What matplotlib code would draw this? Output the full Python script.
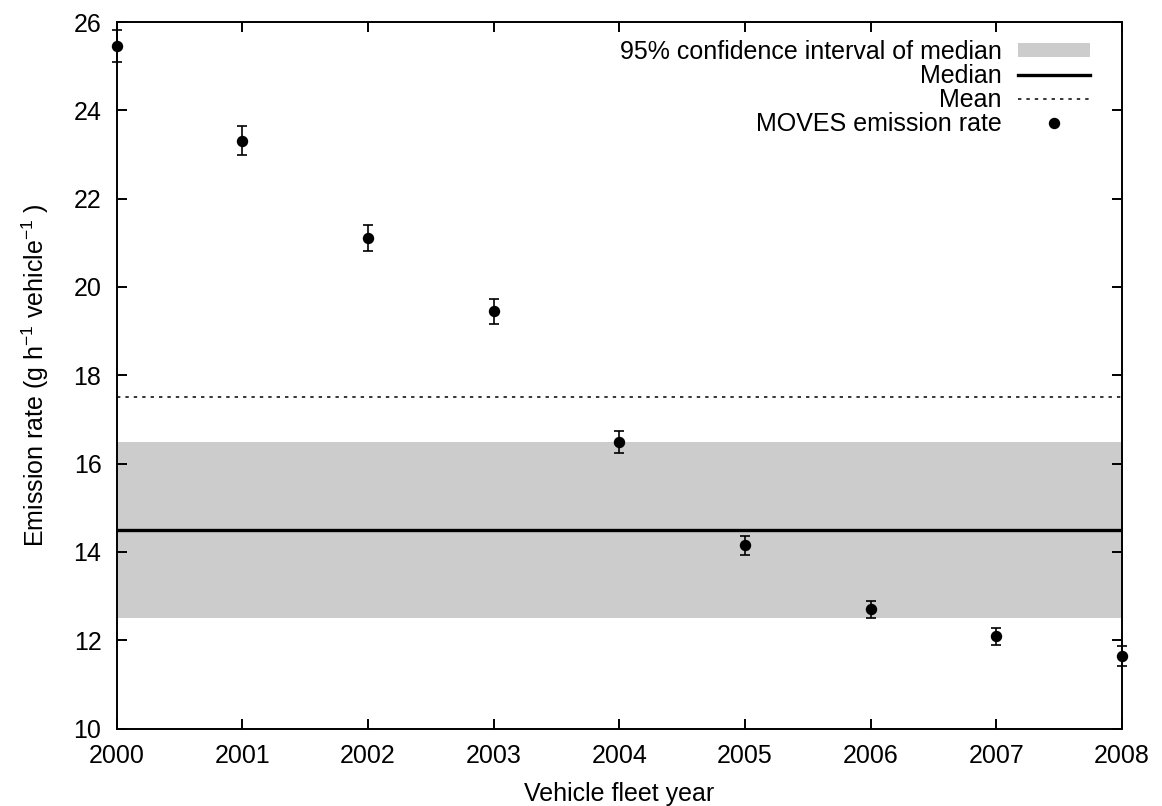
import matplotlib
matplotlib.use("Agg")
import matplotlib.pyplot as plt
from matplotlib.lines import Line2D
from matplotlib.patches import Patch

plt.rcParams['font.family'] = ['Liberation Sans', 'DejaVu Sans']
plt.rcParams['mathtext.fontset'] = 'custom'
plt.rcParams['mathtext.rm'] = 'Liberation Sans'
plt.rcParams['mathtext.it'] = 'Liberation Sans'

# Fleet years and MOVES emission rates with their uncertainties
years = [2000, 2001, 2002, 2003, 2004, 2005, 2006, 2007, 2008]
rates = [25.46, 23.31, 21.11, 19.45, 16.49, 14.15, 12.70, 12.09, 11.64]
errors = [0.36, 0.33, 0.30, 0.28, 0.24, 0.21, 0.20, 0.19, 0.22]

# Summary statistics
median_rate = 14.5
mean_rate = 17.5
ci_low, ci_high = 12.5, 16.5

fig = plt.figure(figsize=(11.62, 8.06), dpi=100)
ax = fig.add_axes([0.1004, 0.096, 0.8652, 0.8767])

ax.axhspan(ci_low, ci_high, color='#cccccc', lw=0, zorder=1)
ax.axhline(median_rate, color='black', lw=2.4, zorder=2)
ax.axhline(mean_rate, color='black', lw=1.1, linestyle=(0, (2.2, 3.3)), zorder=2)
ax.errorbar(years, rates, yerr=errors, fmt='o', color='black', ms=7.2,
            ecolor='black', elinewidth=1.2, capsize=3.8, capthick=1.2,
            clip_on=False, zorder=3)

ax.set_xlim(2000, 2008)
ax.set_ylim(10, 26)
ax.set_xticks(years)
ax.set_xticklabels([str(y) for y in years])
ax.set_yticks(range(10, 27, 2))

for s in ax.spines.values():
    s.set_linewidth(1.4)
ax.tick_params(direction='in', top=True, right=True, length=7.2, width=1.4,
               labelsize=18, pad=11)

ax.set_xlabel('Vehicle fleet year', fontsize=18, labelpad=10)
ax.set_ylabel(r'Emission rate (g h$^{\mathregular{-1}}$ vehicle$^{\mathregular{-1}}$ )',
              fontsize=18, labelpad=16)

handles = [
    Patch(facecolor='#cccccc', edgecolor='none'),
    Line2D([], [], color='black', lw=2.4),
    Line2D([], [], color='black', lw=1.1, linestyle=(0, (2.2, 3.3))),
    Line2D([], [], color='black', marker='o', ms=7.2, lw=0),
]
labels = ['95% confidence interval of median', 'Median', 'Mean',
          'MOVES emission rate']
leg = ax.legend(handles, labels, loc='upper right', frameon=False,
                markerfirst=False, fontsize=18, handlelength=2.9,
                handleheight=0.5, handletextpad=0.64, labelspacing=0.0,
                borderaxespad=0.3, bbox_to_anchor=(0.986, 1.0))
for t in leg.get_texts():
    t.set_ha('right')
leg._legend_box.align = 'right'

fig.savefig('out.png', dpi=100)
